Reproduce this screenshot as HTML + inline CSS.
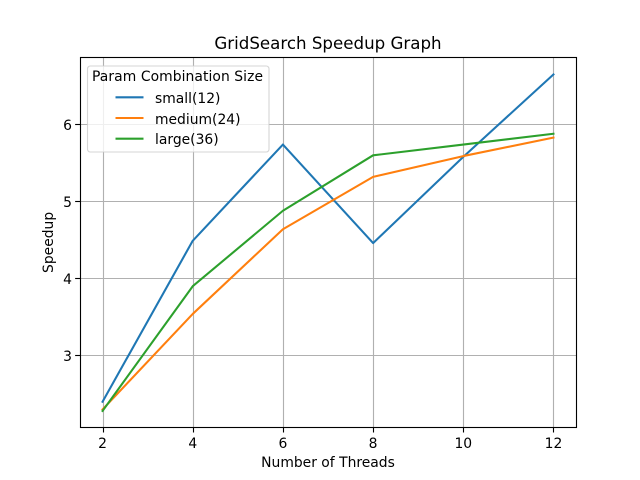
<!DOCTYPE html>
<html>
<head>
<meta charset="utf-8">
<title>GridSearch Speedup Graph</title>
<style>
html,body{margin:0;padding:0;background:#fff;width:640px;height:480px;overflow:hidden}
svg{display:block}
text{font-family:"DejaVu Sans",sans-serif;font-size:13.89px;fill:#000}
</style>
</head>
<body>
<svg id="chart" xmlns="http://www.w3.org/2000/svg" width="640" height="480" viewBox="0 0 640 480">
  <rect x="0" y="0" width="640" height="480" fill="#ffffff"/>
  <g id="grid"></g>
  <g id="series"></g>
  <rect x="80.5" y="57.5" width="496" height="370" fill="none" stroke="#000" stroke-width="1.11"/>
  <g id="ticks"></g>
  <text x="328" y="49" text-anchor="middle" style="font-size:16.67px">GridSearch Speedup Graph</text>
  <text x="328" y="467" text-anchor="middle">Number of Threads</text>
  <text transform="translate(53,242.4) rotate(-90)" text-anchor="middle">Speedup</text>
  <g>
    <rect x="87.5" y="66" width="181.5" height="86" rx="2.8" ry="2.8" fill="#ffffff" fill-opacity="0.8" stroke="#cccccc" stroke-opacity="0.8" stroke-width="1.11"/>
    <text x="92" y="81" textLength="171" lengthAdjust="spacing">Param Combination Size</text>
    <g id="legend-entries"></g>
  </g>
</svg>
<script>
const threads = [2, 4, 6, 8, 10, 12];
const small12 = [2.40, 4.49, 5.74, 4.46, 5.58, 6.65];
const medium24 = [2.30, 3.54, 4.64, 5.32, 5.59, 5.83];
const large36 = [2.28, 3.90, 4.88, 5.60, 5.74, 5.88];
const xTickLabels = [2, 4, 6, 8, 10, 12];
const yTickLabels = [3, 4, 5, 6];
const seriesNames = ['small(12)', 'medium(24)', 'large(36)'];
const seriesKeys = ['small', 'medium', 'large'];
const seriesColors = ['#1f77b4', '#ff7f0e', '#2ca02c'];
const seriesValues = [small12, medium24, large36];

const NS = 'http://www.w3.org/2000/svg';
const plotLeft = 80, plotRight = 576, plotTop = 57.6, plotBottom = 427.2;
const xMin = 1.5, xMax = 12.5, yMin = 2.069, yMax = 6.869;

function xScale(v) {
  return plotLeft + (v - xMin) / (xMax - xMin) * (plotRight - plotLeft);
}
function yScale(v) {
  return plotBottom - (v - yMin) / (yMax - yMin) * (plotBottom - plotTop);
}
function make(tag, attrs) {
  const el = document.createElementNS(NS, tag);
  for (const k in attrs) el.setAttribute(k, attrs[k]);
  return el;
}
const gridGroup = document.getElementById('grid');
const tickGroup = document.getElementById('ticks');
const seriesGroup = document.getElementById('series');
const legendGroup = document.getElementById('legend-entries');

xTickLabels.forEach(function (t) {
  const x = Math.round(xScale(t)) + 0.5;
  const grid = make('line', {x1: x, x2: x, y1: plotTop, y2: plotBottom, stroke: '#b0b0b0', 'stroke-width': 1.11});
  
  
  gridGroup.appendChild(grid);
  const tick = make('line', {x1: x, x2: x, y1: plotBottom, y2: plotBottom + 5.3, stroke: '#000', 'stroke-width': 1.11});
  
  
  tickGroup.appendChild(tick);
  const label = make('text', {x: xScale(t), y: 448, 'text-anchor': 'middle'});
  
  
  label.textContent = t;
  tickGroup.appendChild(label);
});

yTickLabels.forEach(function (t) {
  const y = Math.round(yScale(t) - 0.5) + 0.5;
  const grid = make('line', {x1: plotLeft, x2: plotRight, y1: y, y2: y, stroke: '#b0b0b0', 'stroke-width': 1.11});
  
  
  gridGroup.appendChild(grid);
  const tick = make('line', {x1: plotLeft - 4.86, x2: plotLeft, y1: y, y2: y, stroke: '#000', 'stroke-width': 1.11});
  
  
  tickGroup.appendChild(tick);
  const label = make('text', {x: 72, y: y + 5.5, 'text-anchor': 'end'});
  
  
  label.textContent = t;
  tickGroup.appendChild(label);
});

seriesValues.forEach(function (values, i) {
  const pts = values.map(function (v, j) {
    return xScale(threads[j]).toFixed(2) + ',' + yScale(v).toFixed(2);
  }).join(' ');
  const line = make('polyline', {points: pts, fill: 'none', stroke: seriesColors[i], 'stroke-width': 2.08, 'stroke-linecap': 'square', 'stroke-linejoin': 'round'});
  
  
  seriesGroup.appendChild(line);

  const legendY = 97.3 + i * 20.7;
  const swatch = make('line', {x1: 115.5, x2: 143.5, y1: legendY, y2: legendY, stroke: seriesColors[i], 'stroke-width': 2.08});
  
  
  legendGroup.appendChild(swatch);
  const text = make('text', {x: 155, y: Math.round(legendY + 5.5)});
  
  
  text.textContent = seriesNames[i];
  legendGroup.appendChild(text);
});
</script>
</body>
</html>
